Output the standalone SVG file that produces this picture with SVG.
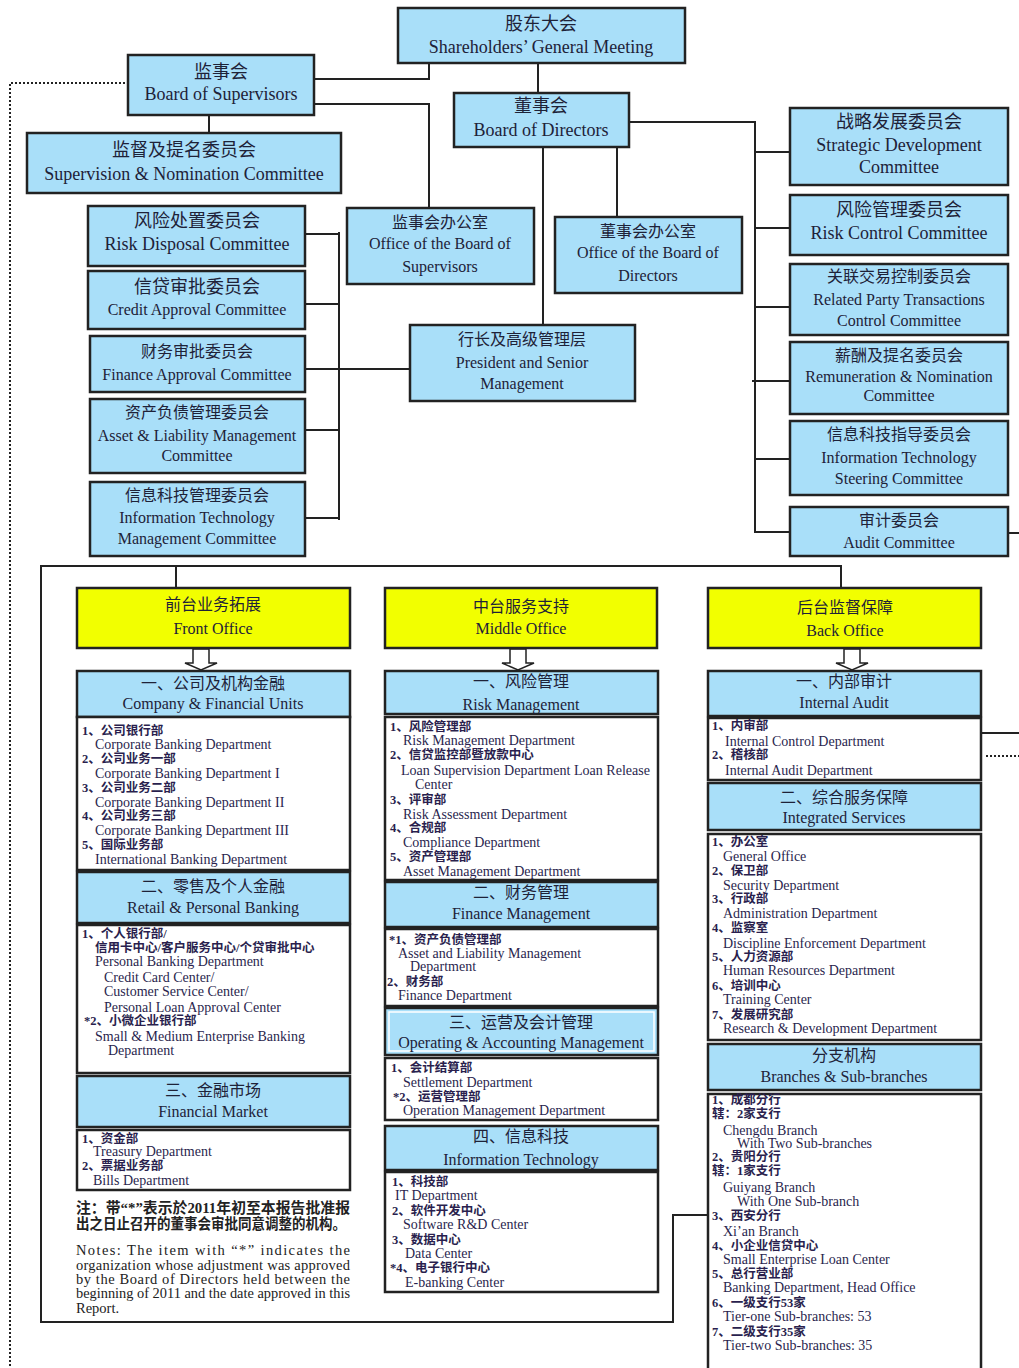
<svg xmlns="http://www.w3.org/2000/svg" width="1019" height="1368" viewBox="0 0 1019 1368">
<style>
.b{fill:#a9dff9;stroke:#222;stroke-width:2.5}
.y{fill:#f2ff00;stroke:#222;stroke-width:2.5}
.w{fill:#fff;stroke:#222;stroke-width:2.5}
.t{font-family:"Liberation Serif","Noto Sans CJK SC",serif;fill:#1e2238;text-anchor:middle;font-size:18px}
.m{font-size:16px}
.s{font-family:"Liberation Serif","Noto Sans CJK SC",serif;fill:#2a1f4e;font-size:14px}
.z{font-size:12.5px;font-weight:bold}
.n{font-family:"Liberation Serif","Noto Sans CJK SC",serif;fill:#222;font-size:14.5px}
.c{stroke:#222;stroke-width:2;fill:none}
.d{stroke:#222;stroke-width:2;fill:none;stroke-dasharray:2 2}
.ar{fill:#fff;stroke:#222;stroke-width:1.5}
</style>
<rect width="1019" height="1368" fill="#fff"/>
<g id="connectors">
<polyline class="c" points="314,79 429,79 429,63"/>
<polyline class="c" points="314,104 429,104 429,208"/>
<line class="c" x1="538" y1="63" x2="538" y2="93"/>
<line class="c" x1="209" y1="115" x2="209" y2="133"/>
<polyline class="c" points="629,122 755,122 755,532 790,532"/>
<line class="c" x1="755" y1="152" x2="790" y2="152"/>
<line class="c" x1="755" y1="228" x2="790" y2="228"/>
<line class="c" x1="755" y1="307" x2="790" y2="307"/>
<line class="c" x1="752" y1="381" x2="790" y2="381"/>
<line class="c" x1="755" y1="459" x2="790" y2="459"/>
<line class="c" x1="617" y1="147" x2="617" y2="217"/>
<line class="c" x1="543" y1="147" x2="543" y2="325"/>
<line class="c" x1="339" y1="232" x2="339" y2="520"/>
<line class="c" x1="305" y1="234" x2="339" y2="234"/>
<line class="c" x1="305" y1="304" x2="339" y2="304"/>
<line class="c" x1="305" y1="369" x2="410" y2="369"/>
<line class="c" x1="305" y1="430" x2="339" y2="430"/>
<line class="c" x1="305" y1="518" x2="339" y2="518"/>
<line class="c" x1="1008" y1="533" x2="1019" y2="533"/>
<polyline class="d" points="125,83 10,83 10,1368"/>
<polyline class="c" points="841,588 841,566 41,566 41,1322 673,1322 673,1215 708,1215"/>
<line class="c" x1="176" y1="566" x2="176" y2="588"/>
<line class="c" x1="978" y1="733" x2="1019" y2="733"/>
<line class="d" x1="986" y1="756" x2="1019" y2="756"/>
<polygon class="ar" points="193,649 209,649 209,663 217,663 201,670 185,663 193,663"/>
<polygon class="ar" points="510,649 526,649 526,663 534,663 518,670 502,663 510,663"/>
<polygon class="ar" points="844,649 860,649 860,663 868,663 852,670 836,663 844,663"/>
</g>
<g id="shareholders"><rect class="b" x="398" y="8" width="287" height="55"/><text class="t" x="541" y="30">股东大会</text><text class="t" x="541" y="53">Shareholders’ General Meeting</text></g>
<g id="supervisors"><rect class="b" x="128" y="55" width="186" height="60"/><text class="t" x="221" y="78">监事会</text><text class="t" x="221" y="100">Board of Supervisors</text></g>
<g id="supnom"><rect class="b" x="27" y="133" width="314" height="60"/><text class="t" x="184" y="156">监督及提名委员会</text><text class="t" x="184" y="180">Supervision &amp; Nomination Committee</text></g>
<g id="directors"><rect class="b" x="454" y="93" width="175" height="54"/><text class="t" x="541" y="112">董事会</text><text class="t" x="541" y="136">Board of Directors</text></g>
<g id="strategic"><rect class="b" x="790" y="108" width="218" height="77"/><text class="t" x="899" y="128">战略发展委员会</text><text class="t" x="899" y="151">Strategic Development</text><text class="t" x="899" y="173">Committee</text></g>
<g id="riskcontrol"><rect class="b" x="790" y="195" width="218" height="60"/><text class="t" x="899" y="216">风险管理委员会</text><text class="t" x="899" y="239">Risk Control Committee</text></g>
<g id="related"><rect class="b" x="790" y="264" width="218" height="71"/><text class="t m" x="899" y="282">关联交易控制委员会</text><text class="t m" x="899" y="305">Related Party Transactions</text><text class="t m" x="899" y="326">Control Committee</text></g>
<g id="remuneration"><rect class="b" x="790" y="342" width="218" height="72"/><text class="t m" x="899" y="361">薪酬及提名委员会</text><text class="t m" x="899" y="382">Remuneration &amp; Nomination</text><text class="t m" x="899" y="401">Committee</text></g>
<g id="itsteering"><rect class="b" x="790" y="421" width="218" height="74"/><text class="t m" x="899" y="440">信息科技指导委员会</text><text class="t m" x="899" y="463">Information Technology</text><text class="t m" x="899" y="484">Steering Committee</text></g>
<g id="audit"><rect class="b" x="790" y="507" width="218" height="49"/><text class="t m" x="899" y="526">审计委员会</text><text class="t m" x="899" y="548">Audit Committee</text></g>
<g id="officesup"><rect class="b" x="347" y="208" width="187" height="76"/><text class="t m" x="440" y="228">监事会办公室</text><text class="t m" x="440" y="249">Office of the Board of</text><text class="t m" x="440" y="272">Supervisors</text></g>
<g id="officedir"><rect class="b" x="555" y="217" width="187" height="76"/><text class="t m" x="648" y="237">董事会办公室</text><text class="t m" x="648" y="258">Office of the Board of</text><text class="t m" x="648" y="281">Directors</text></g>
<g id="president"><rect class="b" x="410" y="325" width="225" height="76"/><text class="t m" x="522" y="345">行长及高级管理层</text><text class="t m" x="522" y="368">President and Senior</text><text class="t m" x="522" y="389">Management</text></g>
<g id="riskdisposal"><rect class="b" x="88" y="206" width="217" height="60"/><text class="t" x="197" y="227">风险处置委员会</text><text class="t" x="197" y="250">Risk Disposal Committee</text></g>
<g id="creditapproval"><rect class="b" x="88" y="271" width="217" height="58"/><text class="t" x="197" y="293">信贷审批委员会</text><text class="t m" x="197" y="315">Credit Approval Committee</text></g>
<g id="financeapproval"><rect class="b" x="90" y="336" width="215" height="56"/><text class="t m" x="197" y="357">财务审批委员会</text><text class="t m" x="197" y="380">Finance Approval Committee</text></g>
<g id="alm"><rect class="b" x="90" y="399" width="215" height="74"/><text class="t m" x="197" y="418">资产负债管理委员会</text><text class="t m" x="197" y="441">Asset &amp; Liability Management</text><text class="t m" x="197" y="461">Committee</text></g>
<g id="itm"><rect class="b" x="90" y="482" width="215" height="74"/><text class="t m" x="197" y="501">信息科技管理委员会</text><text class="t m" x="197" y="523">Information Technology</text><text class="t m" x="197" y="544">Management Committee</text></g>

<g id="frontoffice"><rect class="y" x="77" y="588" width="273" height="60"/><text class="t m" x="213" y="610">前台业务拓展</text><text class="t m" x="213" y="634">Front Office</text></g>
<g id="middleoffice"><rect class="y" x="385" y="588" width="272" height="60"/><text class="t m" x="521" y="612">中台服务支持</text><text class="t m" x="521" y="634">Middle Office</text></g>
<g id="backoffice"><rect class="y" x="708" y="588" width="273" height="60"/><text class="t m" x="845" y="613">后台监督保障</text><text class="t m" x="845" y="636">Back Office</text></g>

<g id="company">
<rect class="b" x="77" y="671" width="273" height="46"/><text class="t m" x="213" y="689">一、公司及机构金融</text><text class="t m" x="213" y="709">Company &amp; Financial Units</text>
<rect class="w" x="77" y="717" width="273" height="153"/>
<text class="s z" x="82" y="735">1、公司银行部</text><text class="s" x="95" y="749">Corporate Banking Department</text>
<text class="s z" x="82" y="763">2、公司业务一部</text><text class="s" x="95" y="778">Corporate Banking Department I</text>
<text class="s z" x="82" y="792">3、公司业务二部</text><text class="s" x="95" y="807">Corporate Banking Department II</text>
<text class="s z" x="82" y="820">4、公司业务三部</text><text class="s" x="95" y="835">Corporate Banking Department III</text>
<text class="s z" x="82" y="849">5、国际业务部</text><text class="s" x="95" y="864">International Banking Department</text>
</g>
<g id="retail">
<rect class="b" x="77" y="872" width="273" height="51"/><text class="t m" x="213" y="892">二、零售及个人金融</text><text class="t m" x="213" y="913">Retail &amp; Personal Banking</text>
<rect class="w" x="77" y="925" width="273" height="148"/>
<text class="s z" x="82" y="938">1、个人银行部/</text>
<text class="s z" x="95" y="952">信用卡中心/客户服务中心/个贷审批中心</text>
<text class="s" x="95" y="966">Personal Banking Department</text>
<text class="s" x="104" y="982">Credit Card Center/</text>
<text class="s" x="104" y="996">Customer Service Center/</text>
<text class="s" x="104" y="1012">Personal Loan Approval Center</text>
<text class="s z" x="84" y="1025">*2、小微企业银行部</text>
<text class="s" x="95" y="1041">Small &amp; Medium Enterprise Banking</text>
<text class="s" x="108" y="1055">Department</text>
</g>
<g id="finmarket">
<rect class="b" x="77" y="1076" width="273" height="51"/><text class="t m" x="213" y="1096">三、金融市场</text><text class="t m" x="213" y="1117">Financial Market</text>
<rect class="w" x="77" y="1130" width="273" height="60"/>
<text class="s z" x="82" y="1143">1、资金部</text><text class="s" x="93" y="1156">Treasury Department</text>
<text class="s z" x="82" y="1170">2、票据业务部</text><text class="s" x="93" y="1185">Bills Department</text>
</g>
<g id="notes">
<text class="n z" x="76" y="1213" textLength="274" lengthAdjust="spacingAndGlyphs">注：带“*”表示於2011年初至本报告批准报</text>
<text class="n z" x="76" y="1229" textLength="270" lengthAdjust="spacingAndGlyphs">出之日止召开的董事会审批同意调整的机构。</text>
<text class="n" x="76" y="1255" textLength="274" lengthAdjust="spacing">Notes: The item with “*” indicates the</text>
<text class="n" x="76" y="1270" textLength="274" lengthAdjust="spacing">organization whose adjustment was approved</text>
<text class="n" x="76" y="1284" textLength="274" lengthAdjust="spacing">by the Board of Directors held between the</text>
<text class="n" x="76" y="1298" textLength="274" lengthAdjust="spacingAndGlyphs">beginning of 2011 and the date approved in this</text>
<text class="n" x="76" y="1313">Report.</text>
</g>

<g id="riskmgmt">
<rect class="b" x="385" y="671" width="273" height="43"/><text class="t m" x="521" y="687">一、风险管理</text><text class="t m" x="521" y="710">Risk Management</text>
<rect class="w" x="385" y="717" width="273" height="163"/>
<text class="s z" x="390" y="731">1、风险管理部</text><text class="s" x="403" y="745">Risk Management Department</text>
<text class="s z" x="390" y="759">2、信贷监控部暨放款中心</text><text class="s" x="401" y="775" textLength="249" lengthAdjust="spacingAndGlyphs">Loan Supervision Department Loan Release</text><text class="s" x="415" y="789">Center</text>
<text class="s z" x="390" y="804">3、评审部</text><text class="s" x="403" y="819">Risk Assessment Department</text>
<text class="s z" x="390" y="832">4、合规部</text><text class="s" x="403" y="847">Compliance Department</text>
<text class="s z" x="390" y="861">5、资产管理部</text><text class="s" x="403" y="876">Asset Management Department</text>
</g>
<g id="finmgmt">
<rect class="b" x="385" y="882" width="273" height="45"/><text class="t m" x="521" y="898">二、财务管理</text><text class="t m" x="521" y="919">Finance Management</text>
<rect class="w" x="385" y="929" width="273" height="77"/>
<text class="s z" x="389" y="944">*1、资产负债管理部</text><text class="s" x="398" y="958">Asset and Liability Management</text><text class="s" x="410" y="971">Department</text>
<text class="s z" x="387" y="986">2、财务部</text><text class="s" x="398" y="1000">Finance Department</text>
</g>
<g id="opacct">
<rect class="b" x="385" y="1008" width="273" height="47"/><rect x="389" y="1012" width="265" height="39" fill="none" stroke="#fff" stroke-width="1.5"/>
<text class="t m" x="521" y="1028">三、运营及会计管理</text><text class="t m" x="521" y="1048">Operating &amp; Accounting Management</text>
<rect class="w" x="385" y="1058" width="273" height="62"/>
<text class="s z" x="391" y="1072">1、会计结算部</text><text class="s" x="403" y="1087">Settlement Department</text>
<text class="s z" x="393" y="1101">*2、运营管理部</text><text class="s" x="403" y="1115">Operation Management Department</text>
</g>
<g id="infotech">
<rect class="b" x="385" y="1126" width="273" height="44"/><text class="t m" x="521" y="1142">四、信息科技</text><text class="t m" x="521" y="1165">Information Technology</text>
<rect class="w" x="385" y="1172" width="273" height="120"/>
<text class="s z" x="392" y="1186">1、科技部</text><text class="s" x="395" y="1200">IT Department</text>
<text class="s z" x="392" y="1215">2、软件开发中心</text><text class="s" x="403" y="1229">Software R&amp;D Center</text>
<text class="s z" x="392" y="1244">3、数据中心</text><text class="s" x="405" y="1258">Data Center</text>
<text class="s z" x="390" y="1272">*4、电子银行中心</text><text class="s" x="405" y="1287">E-banking Center</text>
</g>

<g id="intaudit">
<rect class="b" x="708" y="671" width="273" height="45"/><text class="t m" x="844" y="687">一、内部审计</text><text class="t m" x="844" y="708">Internal Audit</text>
<rect class="w" x="708" y="718" width="273" height="62"/>
<text class="s z" x="712" y="730">1、内审部</text><text class="s" x="725" y="746">Internal Control Department</text>
<text class="s z" x="712" y="759">2、稽核部</text><text class="s" x="725" y="775">Internal Audit Department</text>
</g>
<g id="integrated">
<rect class="b" x="708" y="783" width="273" height="47"/><text class="t m" x="844" y="803">二、综合服务保障</text><text class="t m" x="844" y="823">Integrated Services</text>
<rect class="w" x="708" y="834" width="273" height="206"/>
<text class="s z" x="712" y="846">1、办公室</text><text class="s" x="723" y="861">General Office</text>
<text class="s z" x="712" y="875">2、保卫部</text><text class="s" x="723" y="890">Security Department</text>
<text class="s z" x="712" y="903">3、行政部</text><text class="s" x="723" y="918">Administration Department</text>
<text class="s z" x="712" y="932">4、监察室</text><text class="s" x="723" y="948">Discipline Enforcement Department</text>
<text class="s z" x="712" y="961">5、人力资源部</text><text class="s" x="723" y="975">Human Resources Department</text>
<text class="s z" x="712" y="990">6、培训中心</text><text class="s" x="723" y="1004">Training Center</text>
<text class="s z" x="712" y="1019">7、发展研究部</text><text class="s" x="723" y="1033">Research &amp; Development Department</text>
</g>
<g id="branches">
<rect class="b" x="708" y="1044" width="273" height="46"/><text class="t m" x="844" y="1061">分支机构</text><text class="t m" x="844" y="1082">Branches &amp; Sub-branches</text>
<rect class="w" x="708" y="1094" width="273" height="290"/>
<text class="s z" x="712" y="1104">1、成都分行</text><text class="s z" x="712" y="1118">辖：2家支行</text>
<text class="s" x="723" y="1135">Chengdu Branch</text><text class="s" x="737" y="1148">With Two Sub-branches</text>
<text class="s z" x="712" y="1161">2、贵阳分行</text><text class="s z" x="712" y="1175">辖：1家支行</text>
<text class="s" x="723" y="1192">Guiyang Branch</text><text class="s" x="737" y="1206">With One Sub-branch</text>
<text class="s z" x="712" y="1220">3、西安分行</text><text class="s" x="723" y="1236">Xi’an Branch</text>
<text class="s z" x="712" y="1250">4、小企业信贷中心</text><text class="s" x="723" y="1264">Small Enterprise Loan Center</text>
<text class="s z" x="712" y="1278">5、总行营业部</text><text class="s" x="723" y="1292">Banking Department, Head Office</text>
<text class="s z" x="712" y="1307">6、一级支行53家</text><text class="s" x="723" y="1321">Tier-one Sub-branches: 53</text>
<text class="s z" x="712" y="1336">7、二级支行35家</text><text class="s" x="723" y="1350">Tier-two Sub-branches: 35</text>
</g>
</svg>
